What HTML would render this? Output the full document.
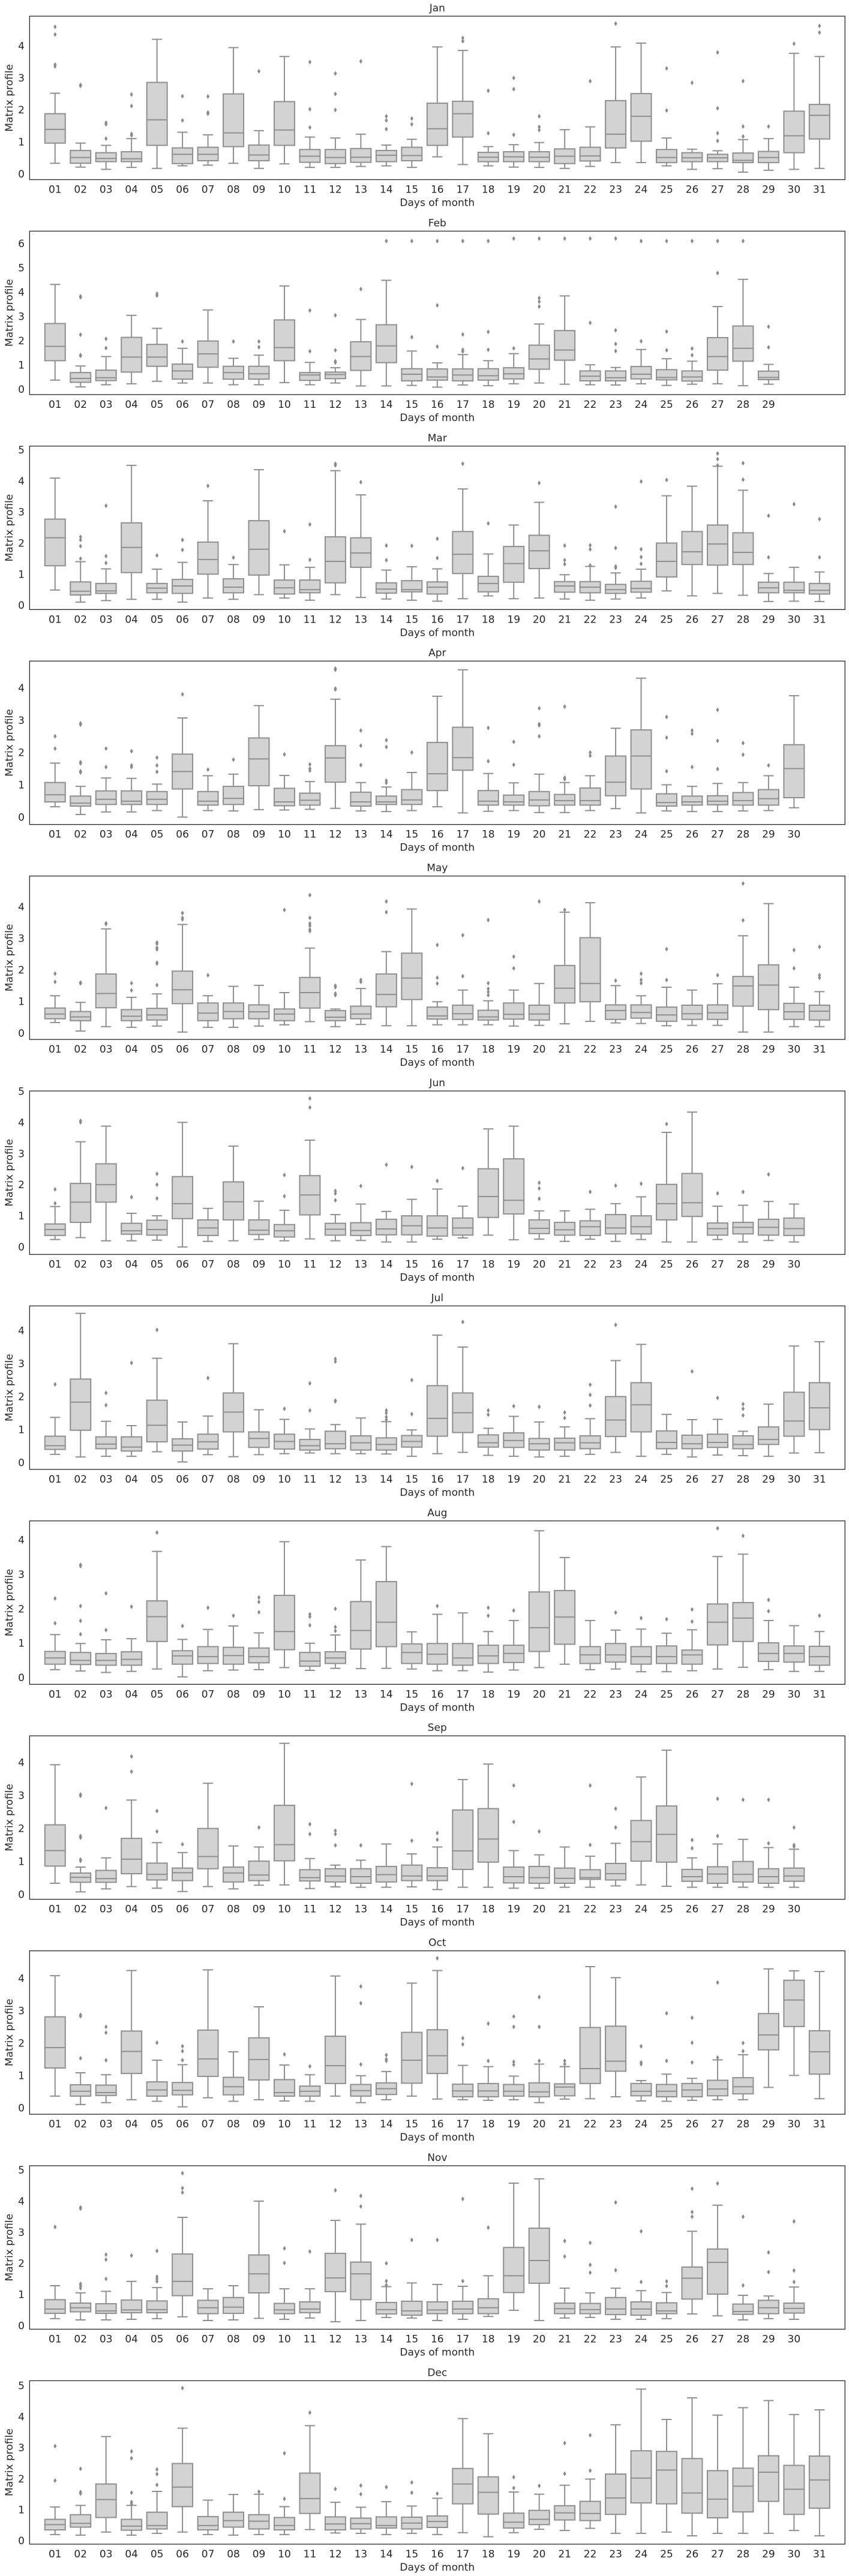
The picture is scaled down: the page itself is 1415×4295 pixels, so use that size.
<!DOCTYPE html>
<html>
<head>
<meta charset="utf-8">
<style>
  html, body { margin: 0; padding: 0; background: #ffffff; }
  body { width: 1415px; height: 4295px; overflow: hidden; }
  svg { display: block; }
  text { font-family: "DejaVu Sans", "Liberation Sans", sans-serif; fill: #262626; }
</style>
</head>
<body>
<svg id="chart" width="1415" height="4295" viewBox="0 0 1415 4295" xmlns="http://www.w3.org/2000/svg"></svg>
<script>
// Each box: [whiskerLow, q1, median, q3, whiskerHigh, ...outliers]
const monthNames = ["Jan","Feb","Mar","Apr","May","Jun","Jul","Aug","Sep","Oct","Nov","Dec"];

const jan = [
[0.33,0.96,1.39,1.88,2.52,4.6,4.36,3.42,3.36],[0.21,0.33,0.51,0.73,0.96,2.78,2.75],[0.14,0.38,0.48,0.66,0.89,1.6,1.55,1.1],
[0.2,0.38,0.47,0.69,1.1,2.48,2.12,1.25,1.2],[0.17,0.89,1.69,2.86,4.21],[0.25,0.32,0.61,0.81,1.3,2.43,1.67],
[0.27,0.41,0.61,0.83,1.22,2.42,1.92,1.88],[0.33,0.85,1.28,2.5,3.95],[0.17,0.41,0.59,0.9,1.35,3.21],[0.31,0.89,1.37,2.26,3.67],
[0.2,0.36,0.55,0.76,1.15,3.5,2.02,1.45],[0.2,0.32,0.51,0.76,1.12,3.14,2.5,2.0],[0.23,0.36,0.52,0.79,1.24,3.52],
[0.25,0.38,0.58,0.73,0.9,1.8,1.67,1.4],[0.2,0.41,0.57,0.83,1.08,1.73,1.55],[0.53,0.89,1.41,2.21,3.97],
[0.29,1.15,1.88,2.27,3.86,4.25,4.15],[0.25,0.38,0.52,0.67,0.85,2.6,1.27],[0.21,0.38,0.53,0.69,0.91,3.0,2.65,1.22],
[0.2,0.38,0.52,0.69,0.98,1.8,1.47,1.37],[0.17,0.32,0.55,0.78,1.38],[0.23,0.4,0.56,0.83,1.47,2.9],[0.35,0.81,1.24,2.29,3.97,4.7],
[0.35,1.02,1.8,2.51,4.09],[0.25,0.35,0.51,0.76,1.12,3.3,1.98],[0.14,0.38,0.5,0.66,0.77,2.85],[0.16,0.38,0.5,0.61,0.72,3.8,2.05,1.27,1.03],
[0.05,0.35,0.42,0.65,1.07,2.9,1.48,1.17],[0.11,0.35,0.51,0.7,1.1,1.48],[0.14,0.66,1.19,1.96,3.77,4.07],[0.17,1.09,1.83,2.17,3.67,4.63,4.42]
];
const feb = [
[0.37,1.17,1.76,2.7,4.31],[0.09,0.28,0.44,0.68,0.95,3.82,3.78,2.24,1.4,1.37],[0.18,0.35,0.47,0.78,1.34,2.07,1.69],
[0.22,0.7,1.32,2.13,3.04],[0.32,0.94,1.32,1.84,2.5,3.93,3.85],[0.25,0.41,0.75,1.03,1.68,1.96],[0.25,0.9,1.45,1.98,3.26],
[0.18,0.41,0.68,0.94,1.27,1.96],[0.18,0.41,0.63,0.94,1.4,1.96,1.73],[0.27,1.17,1.71,2.85,4.25],[0.18,0.36,0.58,0.68,1.1,3.24,1.56],
[0.25,0.43,0.6,0.7,0.88,3.04,1.6,1.15,1.09],[0.13,0.77,1.34,1.95,2.87,4.12],[0.13,1.09,1.78,2.65,4.48,6.1],
[0.15,0.34,0.61,0.84,1.57,6.1,2.14],[0.08,0.37,0.5,0.83,1.08,6.1,3.45,1.75],[0.17,0.34,0.58,0.83,1.42,6.1,2.25,1.62,1.55],
[0.14,0.37,0.55,0.84,1.17,6.1,2.36,1.62],[0.22,0.42,0.63,0.88,1.46,6.2,1.68],[0.25,0.82,1.24,1.81,2.68,6.2,3.75,3.6,3.4],
[0.2,1.19,1.61,2.41,3.84,6.2],[0.18,0.34,0.53,0.75,1.0,6.2,2.73],[0.17,0.34,0.47,0.75,0.89,6.2,2.42,1.86,1.57],
[0.22,0.42,0.61,0.93,1.63,6.1,1.97],[0.15,0.38,0.48,0.8,1.25,6.1,2.37,1.6],[0.2,0.33,0.5,0.75,1.15,6.1,1.67,1.4],
[0.22,0.78,1.34,2.12,3.4,6.1,4.78],[0.14,1.15,1.68,2.6,4.52,6.1],[0.2,0.39,0.48,0.74,1.02,2.57,1.72]
];
const mar = [
[0.49,1.27,2.17,2.77,4.09],[0.1,0.33,0.45,0.75,1.4,2.2,2.1,1.9,1.5],[0.15,0.38,0.46,0.7,1.17,3.2,1.58,1.36],
[0.19,1.05,1.86,2.65,4.5],[0.19,0.4,0.55,0.7,1.16,1.6],[0.1,0.38,0.62,0.83,1.38,2.1,1.78],[0.23,1.0,1.47,2.03,3.36,3.84],
[0.19,0.4,0.58,0.85,1.31,1.53],[0.34,0.97,1.8,2.72,4.36],[0.23,0.36,0.56,0.81,1.3,2.38],[0.16,0.4,0.5,0.81,1.22,2.6,1.46],
[0.34,0.72,1.41,2.2,4.33,4.55,4.5],[0.25,1.22,1.68,2.17,3.55,3.96],[0.2,0.39,0.52,0.72,1.13,1.92,1.45],
[0.16,0.43,0.5,0.79,1.24,1.91],[0.13,0.36,0.58,0.75,1.17,2.14,1.52],[0.21,1.02,1.64,2.37,3.74,4.55],
[0.3,0.43,0.7,0.93,1.65,2.63],[0.21,0.74,1.34,1.89,2.58],[0.23,1.18,1.75,2.25,3.31,3.93],[0.2,0.42,0.62,0.76,0.98,1.92,1.45,1.32],
[0.16,0.4,0.58,0.76,1.25,1.93,1.8,1.28],[0.2,0.38,0.5,0.67,1.04,3.17,1.84,1.25,1.2],[0.23,0.42,0.54,0.77,1.16,3.98,1.8,1.55,1.33],
[0.46,0.91,1.41,2.0,3.52,4.03],[0.3,1.31,1.72,2.37,3.83],[0.38,1.29,1.97,2.58,4.47,4.88,4.7,4.5],[0.32,1.31,1.7,2.33,3.7,4.57,4.04],
[0.12,0.4,0.56,0.74,1.02,2.88,1.54],[0.13,0.4,0.48,0.74,1.22,3.25],[0.12,0.36,0.48,0.7,1.07,2.77,1.54]
];
const apr = [
[0.32,0.47,0.69,1.07,1.67,2.5,2.12],[0.08,0.34,0.43,0.65,0.95,2.9,2.86,1.7,1.66,1.42,1.38],[0.16,0.39,0.55,0.81,1.21,2.12,1.55],
[0.16,0.39,0.49,0.81,1.2,2.04,1.6,1.55],[0.2,0.39,0.55,0.79,1.02,1.84,1.6,1.4],[0.0,0.87,1.41,1.95,3.07,3.8],[0.2,0.37,0.49,0.79,1.28,1.47],
[0.19,0.39,0.58,0.95,1.33,1.78],[0.23,0.97,1.8,2.45,3.45],[0.22,0.35,0.47,0.89,1.29,1.94],[0.24,0.37,0.52,0.74,1.1,1.63,1.5,1.44],
[0.27,1.08,1.83,2.21,3.65,4.6,4.56,3.98,3.95],[0.19,0.34,0.47,0.77,1.07,2.68,2.21,1.61],[0.17,0.39,0.47,0.65,0.93,2.38,2.17,1.13,1.06],
[0.2,0.39,0.53,0.85,1.38,2.0],[0.32,0.82,1.34,2.31,3.74],[0.13,1.45,1.84,2.78,4.56],[0.18,0.37,0.49,0.82,1.35,2.76,1.73],
[0.2,0.37,0.47,0.68,1.06,2.33,1.62],[0.14,0.35,0.53,0.79,1.33,3.37,2.88,2.84,2.5],[0.14,0.37,0.51,0.7,1.07,3.42,1.22,1.17],
[0.2,0.37,0.51,0.9,1.28,2.0,1.9],[0.26,0.66,1.08,1.89,2.75],[0.13,0.87,1.89,2.7,4.3],[0.19,0.34,0.45,0.72,1.0,3.1,2.46,1.42],
[0.17,0.37,0.47,0.65,0.95,2.68,2.58,1.55],[0.17,0.38,0.49,0.66,1.04,3.32,2.36,1.49],[0.19,0.37,0.51,0.76,1.07,2.29,1.93],
[0.2,0.37,0.57,0.85,1.28,1.6],[0.29,0.6,1.5,2.24,3.76]
];
const may = [
[0.33,0.45,0.6,0.79,1.18,1.88,1.62],[0.06,0.39,0.51,0.68,0.97,1.6,1.57],[0.2,0.8,1.25,1.87,3.3,3.48,3.45],
[0.18,0.39,0.53,0.74,1.13,1.58,1.35],[0.22,0.41,0.57,0.78,1.24,2.87,2.83,2.7,2.65,2.23,2.2,1.52],[0.03,0.93,1.37,1.96,3.44,3.8,3.65,3.6],
[0.18,0.39,0.63,0.95,1.18,1.83],[0.18,0.45,0.68,0.95,1.48],[0.22,0.45,0.67,0.89,1.51],[0.26,0.39,0.6,0.76,1.28,3.9],
[0.36,0.79,1.28,1.76,2.69,4.37,3.65,3.47,3.4,3.28,3.23],[0.2,0.39,0.5,0.71,0.76,1.5,1.45,1.25,1.2],[0.27,0.45,0.6,0.85,1.41,1.68,1.62],
[0.23,0.83,1.22,1.87,2.58,4.17,3.83],[0.23,1.06,1.74,2.53,3.93],[0.26,0.44,0.54,0.82,0.99,2.79,1.75,1.57],
[0.26,0.43,0.61,0.88,1.36,3.1,1.8],[0.26,0.41,0.51,0.72,1.02,3.58,1.58,1.4,1.3,1.2],[0.22,0.44,0.59,0.95,1.36,2.42,2.05],
[0.24,0.41,0.6,0.88,1.57,4.17],[0.29,0.95,1.42,2.14,3.83,3.9],[0.37,0.99,1.57,3.02,4.13],[0.32,0.43,0.71,0.89,1.5,1.66],
[0.3,0.47,0.65,0.89,1.18,1.88,1.68,1.58],[0.23,0.37,0.57,0.82,1.45,2.66,1.68],[0.24,0.43,0.61,0.88,1.36],
[0.24,0.43,0.64,0.89,1.56,1.83],[0.03,0.85,1.49,1.79,3.08,4.74,3.57],[0.03,0.74,1.52,2.16,4.1],
[0.2,0.43,0.67,0.94,1.45,2.63,2.05],[0.2,0.41,0.69,0.88,1.31,2.73,1.83,1.75]
];
const jun = [
[0.24,0.37,0.56,0.74,1.3,1.85,1.4],[0.3,0.79,1.44,2.04,3.38,4.05,4.0],[0.2,1.44,2.0,2.67,3.88],[0.2,0.41,0.52,0.76,1.08,1.6],
[0.22,0.38,0.56,0.86,1.0,2.35,2.0,1.56],[0.0,0.91,1.39,2.26,4.0],[0.18,0.37,0.61,0.87,1.24],[0.2,0.87,1.45,2.09,3.24],
[0.24,0.4,0.54,0.87,1.47],[0.2,0.32,0.52,0.72,1.18,2.31,1.63],[0.26,1.03,1.67,2.29,3.43,4.77,4.48],[0.2,0.38,0.57,0.76,1.04,1.8,1.72,1.5],
[0.21,0.37,0.53,0.78,1.38,1.96],[0.16,0.39,0.58,0.89,1.14,2.64],[0.16,0.39,0.68,1.0,1.53,2.57],[0.25,0.35,0.61,1.0,1.86,2.12],
[0.29,0.38,0.61,0.93,1.31,2.53],[0.38,0.95,1.62,2.51,3.79],[0.23,1.06,1.5,2.83,3.88],[0.25,0.43,0.6,0.87,1.16,2.06,1.88,1.55],
[0.18,0.38,0.55,0.79,1.16],[0.25,0.37,0.65,0.84,1.21,1.77],[0.18,0.42,0.61,1.04,1.39,1.97],[0.24,0.42,0.65,1.0,1.61,2.03],
[0.16,0.87,1.39,2.01,3.68,3.95],[0.16,0.98,1.42,2.36,4.33],[0.24,0.38,0.59,0.77,1.31,1.72],[0.16,0.42,0.63,0.79,1.34,1.77],
[0.21,0.38,0.63,0.89,1.46,2.33],[0.16,0.37,0.59,0.93,1.38]
];
const jul = [
[0.25,0.4,0.51,0.8,1.37,2.37],[0.17,0.98,1.83,2.53,4.52],[0.19,0.42,0.56,0.78,1.25,2.11,1.74],[0.19,0.35,0.47,0.78,1.12,3.02],
[0.33,0.63,1.13,1.89,3.16,4.02],[0.02,0.35,0.53,0.72,1.23],[0.24,0.41,0.63,0.86,1.41,2.56],[0.18,0.93,1.53,2.11,3.6],
[0.24,0.46,0.73,0.93,1.6],[0.27,0.41,0.64,0.86,1.31,1.63],[0.29,0.38,0.51,0.7,1.02,2.4,1.58],[0.27,0.42,0.57,0.95,1.15,3.14,3.06,1.88,1.85],
[0.27,0.38,0.6,0.81,1.35],[0.26,0.38,0.55,0.75,1.24,1.58,1.5,1.38,1.3],[0.19,0.47,0.64,0.82,0.99,2.5,1.47],[0.27,0.8,1.34,2.33,3.86],
[0.31,0.91,1.51,2.11,3.5,4.26],[0.22,0.47,0.6,0.84,1.04,1.58,1.45],[0.19,0.46,0.67,0.9,1.4,1.71],[0.17,0.38,0.57,0.73,1.23,1.69],
[0.19,0.38,0.6,0.74,1.08,1.52,1.35],[0.25,0.42,0.6,0.81,1.33,2.36,2.05,1.73],[0.31,0.79,1.29,2.0,3.09,4.17],[0.19,0.93,1.75,2.42,3.58],
[0.25,0.42,0.61,0.96,1.46],[0.17,0.42,0.57,0.83,1.3,2.76],[0.23,0.46,0.61,0.86,1.31,1.96],[0.21,0.42,0.55,0.81,0.95,1.77,1.63,1.43],
[0.19,0.55,0.7,1.08,1.77],[0.29,0.8,1.26,2.13,3.53],[0.3,1.0,1.66,2.42,3.66]
];
const aug = [
[0.23,0.39,0.57,0.76,1.25,2.3,1.58],[0.19,0.38,0.5,0.73,0.99,3.28,3.24,2.08,1.65,1.26],[0.15,0.36,0.5,0.7,1.1,2.45,1.38],
[0.18,0.36,0.53,0.75,1.13,2.06],[0.25,1.05,1.77,2.23,3.67,4.22],[0.02,0.39,0.63,0.78,1.11,1.5],[0.2,0.41,0.61,0.9,1.4,2.03],
[0.22,0.39,0.64,0.88,1.5,1.8],[0.23,0.43,0.61,0.86,1.3,2.33,2.2,1.9],[0.29,0.81,1.34,2.39,3.95],[0.21,0.33,0.48,0.73,1.0,1.84,1.77,1.52],
[0.27,0.41,0.57,0.75,1.24,2.0,1.47,1.36],[0.26,0.83,1.37,2.21,3.42],[0.27,0.9,1.61,2.79,3.81],[0.25,0.41,0.73,0.98,1.33],
[0.2,0.39,0.68,0.99,1.84,2.08],[0.2,0.36,0.57,0.99,1.88],[0.16,0.41,0.63,0.94,1.34,2.03,1.8],[0.22,0.44,0.7,0.94,1.66,1.95],
[0.29,0.76,1.45,2.49,4.27],[0.39,0.97,1.76,2.53,3.49],[0.23,0.41,0.66,0.9,1.66],[0.25,0.45,0.66,0.99,1.38,1.89],
[0.17,0.39,0.61,0.9,1.41,1.73],[0.17,0.41,0.61,0.92,1.29,1.7],[0.2,0.39,0.66,0.8,1.39,1.98,1.63],[0.25,0.95,1.61,2.14,3.52,4.34],
[0.3,1.05,1.73,2.18,3.59,4.12],[0.23,0.47,0.7,1.01,1.66,2.26,1.93],[0.18,0.45,0.7,0.92,1.51],[0.18,0.36,0.61,0.91,1.34,1.8]
];
const sep = [
[0.34,0.86,1.33,2.11,3.93],[0.08,0.37,0.52,0.65,0.83,3.03,2.99,1.77,1.72,1.06,1.02],[0.17,0.37,0.48,0.73,1.11,2.62],
[0.24,0.63,1.07,1.7,2.86,4.18,3.72],[0.19,0.44,0.61,0.95,1.57,2.53,1.91],[0.09,0.42,0.66,0.8,1.27,1.52],[0.24,0.78,1.15,2.0,3.37],
[0.17,0.38,0.65,0.83,1.47],[0.28,0.42,0.59,1.01,1.44,2.03],[0.29,1.02,1.51,2.7,4.58],[0.18,0.41,0.51,0.75,1.09,2.13,1.83],
[0.23,0.38,0.56,0.78,0.89,1.93,1.83,1.49],[0.22,0.34,0.54,0.78,1.04,1.49],[0.22,0.38,0.6,0.85,1.53],[0.23,0.42,0.56,0.89,1.23,3.35,1.63],
[0.15,0.42,0.56,0.81,1.44,1.86,1.66],[0.22,0.76,1.32,2.56,3.48],[0.22,0.98,1.68,2.6,3.95],[0.19,0.35,0.54,0.83,1.33,3.3,2.2],
[0.19,0.34,0.51,0.85,1.2,1.91],[0.22,0.34,0.49,0.8,1.44],[0.22,0.46,0.51,0.75,1.16,3.3,1.5],[0.26,0.44,0.63,0.94,1.55,2.6,2.03],
[0.29,1.01,1.6,2.24,3.56],[0.25,0.98,1.82,2.68,4.37],[0.22,0.4,0.54,0.76,1.11,1.65,1.4],[0.22,0.34,0.62,0.84,1.53,2.9,1.77],
[0.22,0.38,0.61,1.0,1.67,2.87],[0.22,0.34,0.54,0.78,1.42,2.87,1.55],[0.22,0.4,0.56,0.8,1.37,2.03,1.5,1.45]
];
const oct = [
[0.36,1.23,1.86,2.81,4.08],[0.1,0.36,0.51,0.71,1.08,2.87,2.83,1.53],[0.16,0.38,0.47,0.7,1.02,2.5,2.32,1.47],[0.25,1.06,1.74,2.37,4.24],
[0.2,0.36,0.55,0.8,1.47,2.01],[0.03,0.4,0.54,0.78,1.33,1.9,1.75,1.47],[0.31,0.97,1.51,2.4,4.26],[0.2,0.4,0.65,0.94,1.73],
[0.25,0.86,1.49,2.16,3.12],[0.21,0.36,0.47,0.87,1.32,1.65],[0.2,0.36,0.51,0.67,1.02,1.28],[0.36,0.75,1.3,2.21,4.07],
[0.16,0.36,0.53,0.72,0.99,3.75,3.23,1.34],[0.25,0.41,0.59,0.77,1.12,1.63,1.5,1.45],[0.36,0.76,1.47,2.33,3.85],
[0.27,1.06,1.61,2.41,4.24,4.62],[0.25,0.34,0.52,0.73,1.31,2.15,1.96],[0.23,0.34,0.52,0.75,1.27,2.6,1.45],
[0.25,0.36,0.51,0.72,0.98,2.82,2.5,1.42,1.33],[0.16,0.34,0.49,0.77,1.35,3.42,2.5,1.45],[0.27,0.37,0.64,0.74,1.27,1.45,1.35],
[0.28,0.75,1.21,2.48,4.36],[0.34,1.13,1.44,2.52,4.02],[0.21,0.37,0.51,0.75,0.84,1.9,1.4,1.35],[0.2,0.34,0.51,0.72,1.04,2.92,1.45],
[0.23,0.34,0.55,0.75,0.91,2.78,2.01,1.4],[0.25,0.37,0.58,0.85,1.48,3.87,1.55],[0.25,0.43,0.65,0.93,1.64,2.0,1.75],
[0.63,1.79,2.25,2.91,4.29],[1.0,2.51,3.33,3.94,4.23],[0.28,1.04,1.73,2.38,4.21]
];
const nov = [
[0.22,0.39,0.53,0.83,1.28,3.17],[0.18,0.44,0.57,0.72,1.05,3.8,3.76,1.34,1.27,1.2],[0.18,0.39,0.47,0.7,1.1,2.28,2.12,1.5],
[0.2,0.41,0.5,0.82,1.42,2.25],[0.22,0.41,0.51,0.79,1.22,2.4,1.57,1.5,1.42],[0.28,0.96,1.42,2.3,3.48,4.9,4.42,4.28],
[0.16,0.38,0.57,0.81,1.18],[0.18,0.39,0.59,0.9,1.28],[0.23,1.05,1.66,2.27,4.0],[0.2,0.38,0.5,0.71,1.18,2.48,2.01],
[0.24,0.41,0.53,0.76,1.18,2.38],[0.12,1.09,1.53,2.32,3.38,4.35],[0.16,0.83,1.66,2.04,3.26,4.17,3.83],
[0.26,0.37,0.51,0.74,1.25,2.0,1.43,1.3],[0.24,0.33,0.47,0.78,1.37,2.75],[0.16,0.38,0.5,0.76,1.32,2.75],
[0.2,0.38,0.53,0.78,1.26,4.07,1.43],[0.29,0.38,0.57,0.86,1.6,3.15],[0.49,1.06,1.6,2.51,4.58],[0.16,1.36,2.09,3.13,4.72],
[0.24,0.38,0.54,0.72,1.2,2.72,2.22],[0.26,0.38,0.51,0.71,1.05,2.66,1.95,1.7],[0.2,0.35,0.53,0.9,1.2,3.96,1.78],
[0.2,0.33,0.53,0.76,1.12,3.03,1.4],[0.22,0.38,0.47,0.73,1.06,1.42,1.27],[0.37,0.85,1.52,1.88,3.03,4.4,3.65,3.5],
[0.31,1.01,2.03,2.46,3.87,4.57],[0.18,0.36,0.45,0.69,0.97,3.5,1.29],[0.22,0.38,0.57,0.81,0.95,2.35,1.72],[0.2,0.4,0.55,0.72,1.24,3.35,1.77,1.4]
];
const dec = [
[0.2,0.35,0.52,0.69,1.09,3.05,1.94],[0.18,0.44,0.56,0.84,1.14,2.32,1.57,1.52],[0.28,0.75,1.33,1.83,3.36],
[0.18,0.34,0.47,0.69,1.14,2.88,2.66,1.55,1.25,1.19],[0.24,0.38,0.49,0.92,1.59,2.3,2.15,1.8],[0.28,1.1,1.73,2.49,3.63,4.92],
[0.2,0.35,0.49,0.78,1.31],[0.18,0.44,0.65,0.92,1.49],[0.2,0.38,0.63,0.84,1.5,1.58],[0.2,0.35,0.49,0.75,1.1,2.82,1.35],
[0.36,0.88,1.36,2.18,3.71,4.13],[0.25,0.35,0.54,0.77,1.24,1.67],[0.24,0.38,0.55,0.73,1.08,1.78,1.5],[0.2,0.41,0.49,0.77,1.26,1.73],
[0.24,0.38,0.57,0.76,1.12,1.88,1.55],[0.2,0.43,0.62,0.8,1.37,1.52],[0.26,1.19,1.83,2.33,3.94],[0.13,0.86,1.56,2.06,3.45],
[0.26,0.41,0.6,0.89,1.57,2.05,1.7],[0.37,0.52,0.69,0.98,1.5,1.77],[0.33,0.67,0.9,1.13,1.79,3.15,2.16],[0.4,0.65,0.88,1.27,1.99,3.4,2.26],
[0.24,0.85,1.38,2.15,3.74],[0.24,1.22,2.02,2.9,4.89],[0.28,1.19,2.28,2.88,3.91],[0.16,0.89,1.54,2.65,4.61],
[0.24,0.74,1.34,2.26,4.05],[0.24,0.93,1.76,2.34,4.29],[0.24,1.27,2.21,2.74,4.52],[0.33,0.85,1.66,2.43,4.07],[0.16,1.05,1.96,2.73,4.22]
];
const allMonths = [jan, feb, mar, apr, may, jun, jul, aug, sep, oct, nov, dec];

const svg = document.getElementById('chart');
const NS = 'http://www.w3.org/2000/svg';
const AX_LEFT = 49.3, AX_RIGHT = 1408.3, PANEL_TOP0 = 27.0, PANEL_STEP = 358.4, AX_H = 272.5;
const LINE = '#8f8f8f', FILL = '#d3d3d3';

function mk(tag, attrs, parent) {
  const e = document.createElementNS(NS, tag);
  for (const k in attrs) e.setAttribute(k, attrs[k]);
  parent.appendChild(e);
  return e;
}

allMonths.forEach(function (boxes, m) {
  const top = PANEL_TOP0 + m * PANEL_STEP;
  const bottom = top + AX_H;
  let vmin = Infinity, vmax = -Infinity;
  boxes.forEach(function (b) { b.forEach(function (v) { if (v < vmin) vmin = v; if (v > vmax) vmax = v; }); });
  const pad = (vmax - vmin) * 0.05;
  const lo = vmin - pad, hi = vmax + pad;
  const step = (AX_RIGHT - AX_LEFT) / 32;
  const xs = function (i) { return AX_LEFT + (i + 1) * step; };
  const ys = function (v) { return top + (hi - v) / (hi - lo) * AX_H; };

  const g = mk('g', {}, svg);
  
  

  const title = mk('text', {x: (AX_LEFT + AX_RIGHT) / 2, y: top - 8, 'text-anchor': 'middle', 'font-size': '17'}, g);
  title.textContent = monthNames[m];
  
  

  for (let t = 0; t <= Math.floor(hi); t++) {
    const tl = mk('text', {x: 41, y: ys(t) + 6, 'text-anchor': 'end', 'font-size': '17'}, g);
    tl.textContent = String(t);
    
    
  }
  const yl = mk('text', {x: 0, y: 0, 'text-anchor': 'middle', 'font-size': '17', transform: 'translate(21,' + (top + AX_H / 2) + ') rotate(-90)'}, g);
  yl.textContent = 'Matrix profile';
  
  

  boxes.forEach(function (b, i) {
    const cx = xs(i), bw = step * 0.8, cw = bw / 2;
    const bg = mk('g', {stroke: LINE, 'stroke-width': '2', fill: 'none'}, g);
    
    
    mk('line', {x1: cx, x2: cx, y1: ys(b[0]), y2: ys(b[1])}, bg);
    mk('line', {x1: cx, x2: cx, y1: ys(b[3]), y2: ys(b[4])}, bg);
    mk('line', {x1: cx - cw / 2, x2: cx + cw / 2, y1: ys(b[0]), y2: ys(b[0])}, bg);
    mk('line', {x1: cx - cw / 2, x2: cx + cw / 2, y1: ys(b[4]), y2: ys(b[4])}, bg);
    mk('rect', {x: cx - bw / 2, y: ys(b[3]), width: bw, height: Math.max(0.5, ys(b[1]) - ys(b[3])), fill: FILL}, bg);
    mk('line', {x1: cx - bw / 2, x2: cx + bw / 2, y1: ys(b[2]), y2: ys(b[2])}, bg);
    for (let k = 5; k < b.length; k++) {
      const oy = ys(b[k]);
      const d = mk('path', {d: 'M' + cx + ' ' + (oy - 4) + ' L' + (cx + 2.6) + ' ' + oy + ' L' + cx + ' ' + (oy + 4) + ' L' + (cx - 2.6) + ' ' + oy + ' Z', fill: '#8a8a8a', stroke: 'none'}, bg);
      
      
    }
    const xl = mk('text', {x: cx, y: bottom + 22, 'text-anchor': 'middle', 'font-size': '17'}, g);
    xl.textContent = String(i + 1).padStart(2, '0');
    
    
  });

  const frame = mk('rect', {x: AX_LEFT, y: top, width: AX_RIGHT - AX_LEFT, height: AX_H, fill: 'none', stroke: '#262626', 'stroke-width': '1.3'}, g);
  
  

  const xlab = mk('text', {x: (AX_LEFT + AX_RIGHT) / 2, y: bottom + 44, 'text-anchor': 'middle', 'font-size': '17'}, g);
  xlab.textContent = 'Days of month';
  
  
});
</script>
</body>
</html>
